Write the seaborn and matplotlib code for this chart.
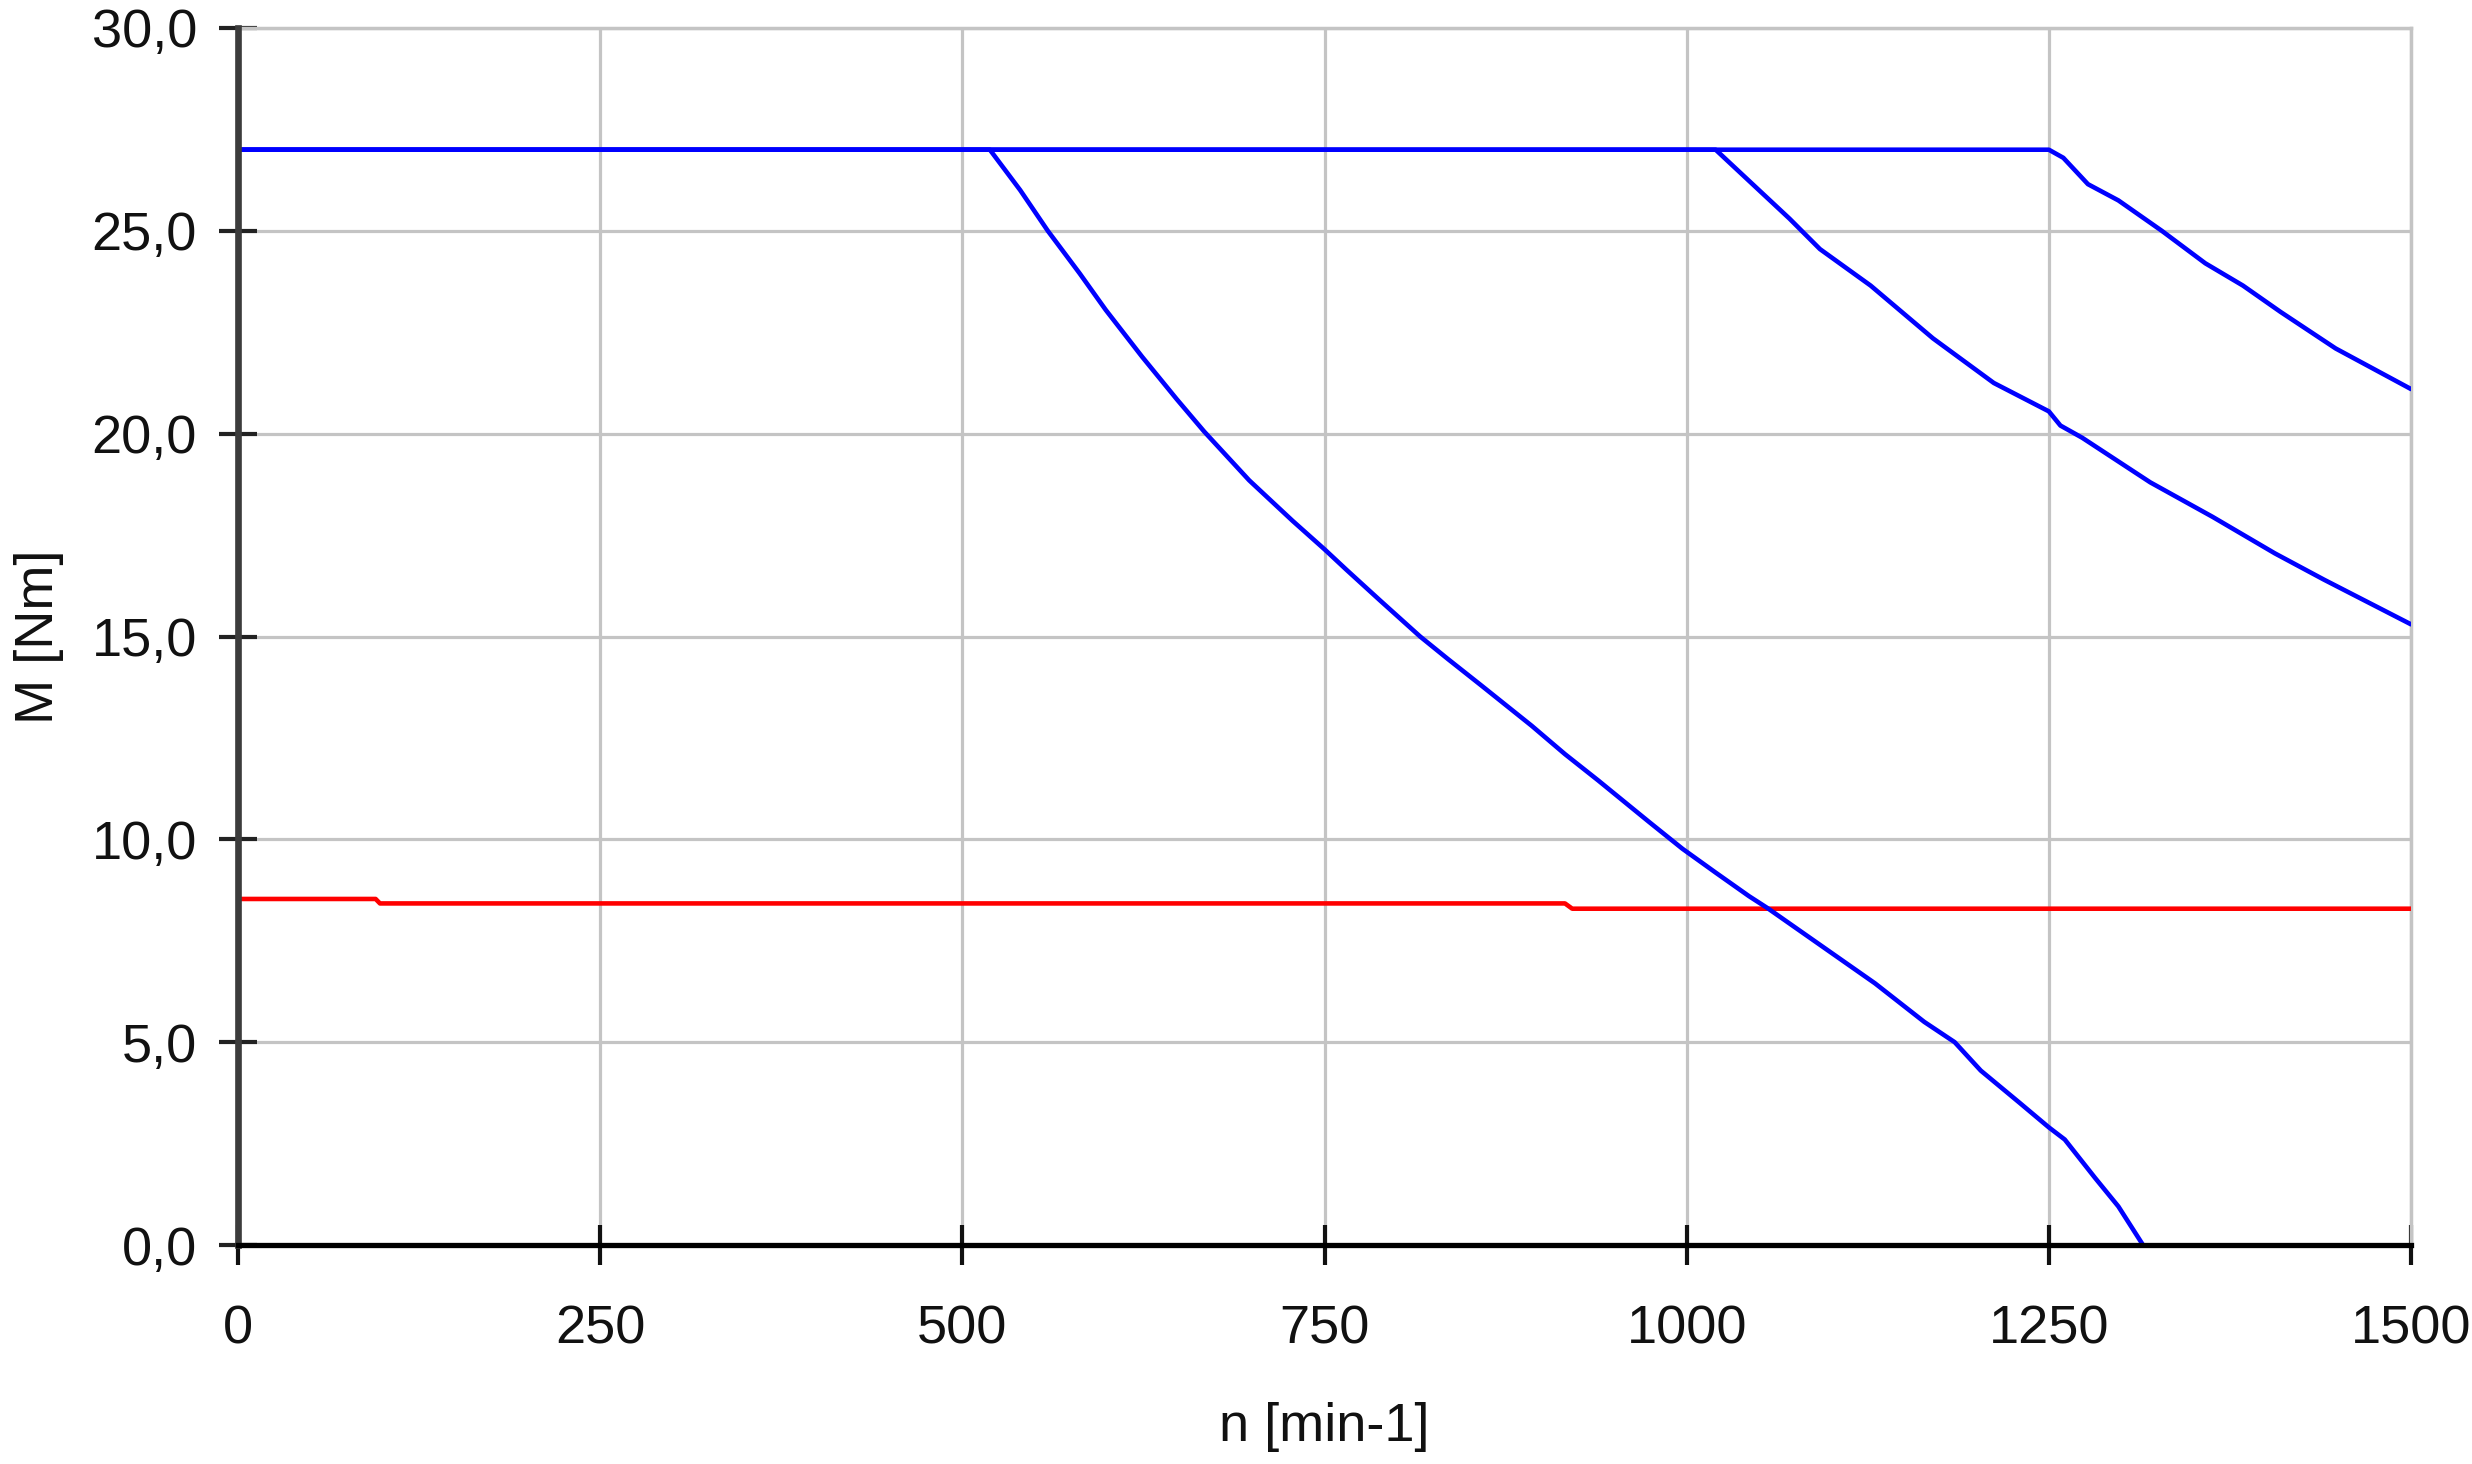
import matplotlib
matplotlib.use("Agg")
import matplotlib.pyplot as plt
import seaborn as sns
import pandas as pd

# ---- data ----
n_curve_a = [0, 519, 540, 559, 581, 599, 624, 648, 667, 698, 728, 750, 765, 788, 816, 835,
             858, 872, 893, 916, 939, 951, 974, 997, 1020, 1043, 1056, 1098, 1130, 1164,
             1185, 1203, 1230, 1250, 1261, 1282, 1298, 1315]
m_curve_a = [27.0, 27.0, 26.0, 25.0, 23.95, 23.05, 21.9, 20.85, 20.05, 18.85, 17.85, 17.15,
             16.65, 15.9, 15.0, 14.45, 13.8, 13.4, 12.8, 12.1, 11.45, 11.1, 10.43, 9.77,
             9.18, 8.6, 8.3, 7.25, 6.45, 5.5, 5.0, 4.3, 3.5, 2.9, 2.6, 1.65, 0.95, 0.0]

n_curve_b = [0, 1020, 1041, 1071, 1092, 1127, 1170, 1212, 1250, 1258, 1273, 1320, 1363,
             1406, 1440, 1470, 1500]
m_curve_b = [27.0, 27.0, 26.3, 25.3, 24.55, 23.65, 22.35, 21.25, 20.55, 20.2, 19.9, 18.8,
             17.95, 17.05, 16.4, 15.85, 15.3]

n_curve_c = [0, 1250, 1260, 1277, 1298, 1328, 1358, 1384, 1410, 1448, 1500]
m_curve_c = [27.0, 27.0, 26.8, 26.15, 25.75, 25.0, 24.2, 23.65, 23.0, 22.1, 21.1]

n_red = [0, 95, 98, 916, 921, 1500]
m_red = [8.53, 8.53, 8.42, 8.42, 8.29, 8.29]

x_ticks = [0, 250, 500, 750, 1000, 1250, 1500]
x_ticklabels = ["0", "250", "500", "750", "1000", "1250", "1500"]
y_ticks = [0, 5, 10, 15, 20, 25, 30]
y_ticklabels = ["0,0", "5,0", "10,0", "15,0", "20,0", "25,0", "30,0"]
x_label = "n [min-1]"
y_label = "M [Nm]"

# ---- build table ----
frames = []
for name, xs, ys in [("red", n_red, m_red), ("a", n_curve_a, m_curve_a),
                     ("b", n_curve_b, m_curve_b), ("c", n_curve_c, m_curve_c)]:
    frames.append(pd.DataFrame({"n": xs, "M": ys, "curve": name}))
df = pd.concat(frames, ignore_index=True)

sns.set_theme(style="whitegrid")
plt.rcParams["font.family"] = ["Liberation Sans", "DejaVu Sans"]

fig = plt.figure(figsize=(24.72, 14.64), dpi=100)
ax = fig.add_axes([238 / 2472, 1 - 1245 / 1464, (2411 - 238) / 2472, (1245 - 28) / 1464])

palette = {"red": "#ff0000", "a": "#0000ff", "b": "#0000ff", "c": "#0000ff"}
for name in ["red", "a", "b", "c"]:
    sub = df[df["curve"] == name]
    sns.lineplot(data=sub, x="n", y="M", color=palette[name], sort=False,
                 estimator=None, linewidth=3.3, ax=ax, legend=False, zorder=3)

ax.set_xlim(0, 1500)
ax.set_ylim(0, 30)
ax.set_xticks(x_ticks)
ax.set_xticklabels(x_ticklabels)
ax.set_yticks(y_ticks)
ax.set_yticklabels(y_ticklabels)

ax.grid(True, color="#c4c4c4", linewidth=2.3)
ax.set_axisbelow(True)

for side in ["top", "right"]:
    ax.spines[side].set_color("#c4c4c4")
    ax.spines[side].set_linewidth(2.5)
ax.spines["left"].set_color("#3c3c3c")
ax.spines["left"].set_linewidth(4.8)
ax.spines["bottom"].set_color("#000000")
ax.spines["bottom"].set_linewidth(3.8)
ax.spines["left"].set_zorder(4)
ax.spines["bottom"].set_zorder(4)

ax.tick_params(axis="y", direction="inout", length=27, width=3, color="#222222",
               labelsize=39, labelcolor="#111111", pad=16, left=True)
ax.tick_params(axis="x", direction="inout", length=29, width=3, color="#111111",
               labelsize=39, labelcolor="#111111", pad=28, bottom=True)

ax.set_xlabel(x_label, fontsize=39, color="#111111")
ax.set_ylabel(y_label, fontsize=39, color="#111111")
ax.xaxis.set_label_coords(0.5, (1245 - 1402) / 1217)
ax.yaxis.set_label_coords((64 - 238) / 2173, 0.5)

fig.savefig("out.png", dpi=100, facecolor="white")
